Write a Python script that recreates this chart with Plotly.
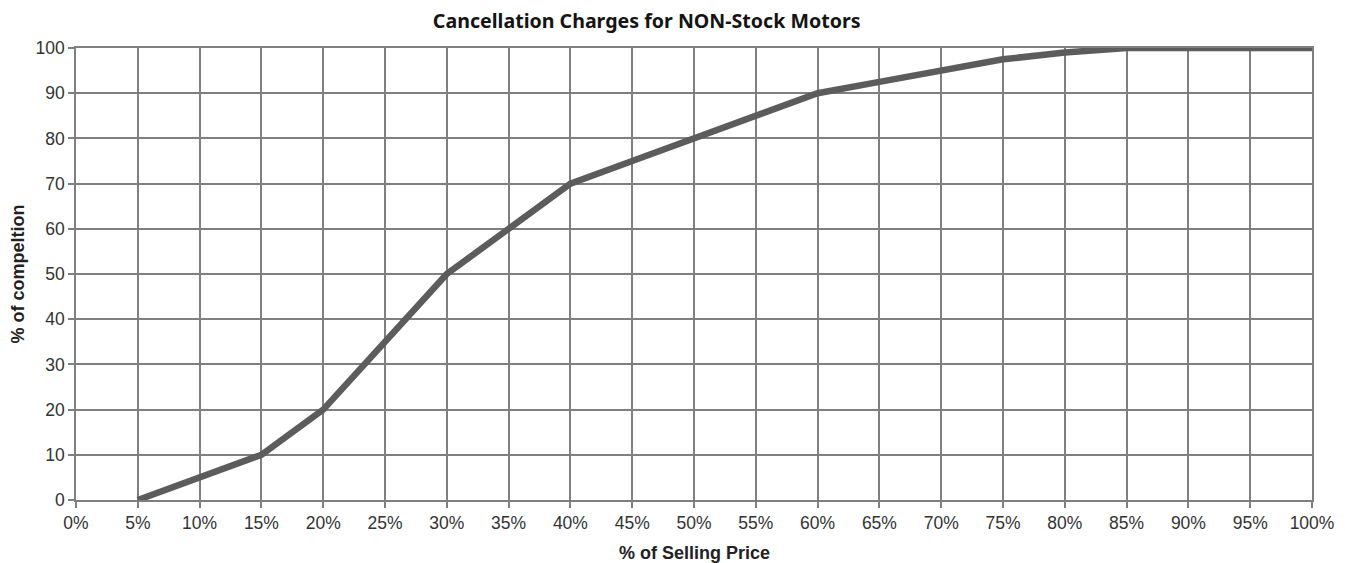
import plotly.graph_objects as go

x_pct = [5, 10, 15, 20, 25, 30, 35, 40, 45, 50, 55, 60, 65, 70, 75, 80, 85, 90, 95, 100]
completion = [0, 5, 10, 20, 35, 50, 60, 70, 75, 80, 85, 90, 92.5, 95, 97.5, 99, 100, 100, 100, 100]
x_ticks = list(range(0, 101, 5))
x_tick_labels = [f"{v}%" for v in x_ticks]
y_ticks = list(range(0, 101, 10))

grid_col = "#7f7f7f"
W, H = 1345, 563

fig = go.Figure()
fig.add_trace(go.Scatter(
    x=x_pct, y=completion, mode="lines",
    line=dict(color="#5c5c5c", width=6.5),
    showlegend=False, hoverinfo="x+y",
))

axis_common = dict(
    range=[0, 100], tickmode="array",
    showgrid=True, gridcolor=grid_col, gridwidth=1.5,
    showline=True, linecolor=grid_col, linewidth=1.5, mirror=True,
    ticks="outside", ticklen=6, tickcolor=grid_col, tickwidth=1.5,
    zeroline=False, automargin=False,
    tickfont=dict(family="Liberation Sans", size=17.5, color="#333333"),
)

fig.update_layout(
    width=W, height=H,
    margin=dict(l=76, r=33, t=48, b=63),
    paper_bgcolor="white", plot_bgcolor="white",
    title=dict(text="<b>Cancellation Charges for NON-Stock Motors</b>",
               xref="paper", x=621 / W, xanchor="center", y=1 - 21.5 / H, yanchor="middle",
               font=dict(family="Noto Sans", size=19.6, color="#141414")),
    xaxis=dict(tickvals=x_ticks, ticktext=x_tick_labels, **axis_common),
    yaxis=dict(tickvals=y_ticks, **axis_common),
    annotations=[
        dict(text="<b>% of Selling Price</b>", xref="paper", yref="paper",
             x=0.5, y=0, xanchor="center", yanchor="middle", yshift=-53,
             showarrow=False,
             font=dict(family="Liberation Sans", size=18, color="#222222")),
        dict(text="<b>% of compeltion</b>", xref="paper", yref="paper",
             x=0, y=0.5, xanchor="center", yanchor="middle", xshift=-58.5,
             textangle=-90, showarrow=False,
             font=dict(family="Liberation Sans", size=18, color="#222222")),
    ],
)

fig.write_html("out.html",
               config={"displayModeBar": False},
               post_script="document.body.style.margin='0';document.body.style.overflow='hidden';")
